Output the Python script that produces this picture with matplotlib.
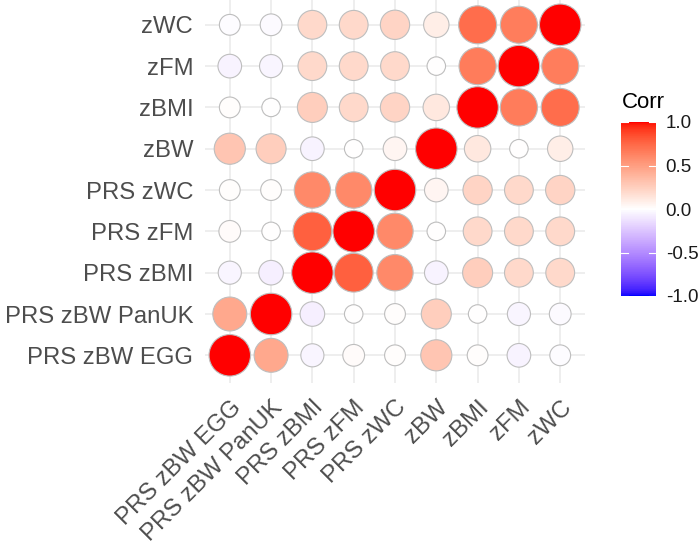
import numpy as np
import matplotlib
matplotlib.use("Agg")
import matplotlib.pyplot as plt
from matplotlib.colors import ListedColormap, Normalize
from matplotlib.cm import ScalarMappable

plt.rcParams["font.family"] = ["Liberation Sans", "DejaVu Sans"]

# ── Datos ─────────────────────────────────────────────────────────────────────
labels = ["PRS zBW EGG", "PRS zBW PanUK", "PRS zBMI", "PRS zFM", "PRS zWC",
          "zBW", "zBMI", "zFM", "zWC"]

# matriz de correlación (fila i, columna j), mismo orden que labels
corr = [
    [1.00,  0.45, -0.04,  0.02,  0.01,  0.30,  0.01, -0.05, -0.01],
    [0.45,  1.00, -0.07,  0.00,  0.01,  0.25,  0.00, -0.04, -0.02],
    [-0.04, -0.07, 1.00,  0.78,  0.60, -0.05,  0.25,  0.20,  0.20],
    [0.02,  0.00,  0.78,  1.00,  0.60,  0.00,  0.20,  0.20,  0.20],
    [0.01,  0.01,  0.60,  0.60,  1.00,  0.05,  0.22,  0.20,  0.22],
    [0.30,  0.25, -0.05,  0.00,  0.05,  1.00,  0.12,  0.00,  0.09],
    [0.01,  0.00,  0.25,  0.20,  0.22,  0.12,  1.00,  0.66,  0.72],
    [-0.05, -0.04, 0.20,  0.20,  0.20,  0.00,  0.66,  1.00,  0.65],
    [-0.01, -0.02, 0.20,  0.20,  0.22,  0.09,  0.72,  0.65,  1.00],
]

legend_ticks = [-1.0, -0.5, 0.0, 0.5, 1.0]

# ── Colores ───────────────────────────────────────────────────────────────────
GREY_TXT = "#4D4D4D"
GRID = "#EBEBEB"
OUTLINE = "#BEBEBE"
LOW, MID, HIGH = (0, 0, 1.0), (1.0, 1.0, 1.0), (1.0, 0, 0)

# interpolación en espacio Lab (como scale_fill_gradient2)
M = np.array([[0.4124, 0.3576, 0.1805],
              [0.2126, 0.7152, 0.0722],
              [0.0193, 0.1192, 0.9505]])
WN = np.array([0.95047, 1.0, 1.08883])
D = 6 / 29


def rgb2lab(rgb):
    c = np.asarray(rgb, float)
    c = np.where(c <= 0.04045, c / 12.92, ((c + 0.055) / 1.055) ** 2.4)
    t = (M @ c) / WN
    f = np.where(t > D ** 3, np.cbrt(t), t / (3 * D ** 2) + 4 / 29)
    return np.array([116 * f[1] - 16, 500 * (f[0] - f[1]), 200 * (f[1] - f[2])])


def lab2rgb(lab):
    L, a, b = lab
    fy = (L + 16) / 116
    f = np.array([fy + a / 500, fy, fy - b / 200])
    t = np.where(f > D, f ** 3, 3 * D ** 2 * (f - 4 / 29)) * WN
    c = np.linalg.solve(M, t)
    c = np.where(c <= 0.0031308, 12.92 * c,
                 1.055 * np.power(np.clip(c, 0, None), 1 / 2.4) - 0.055)
    return np.clip(c, 0, 1)


lab_low, lab_mid, lab_high = rgb2lab(LOW), rgb2lab(MID), rgb2lab(HIGH)
cols = []
for v in np.linspace(-1, 1, 256):
    if v < 0:
        lab = lab_mid + (lab_low - lab_mid) * (-v)
    else:
        lab = lab_mid + (lab_high - lab_mid) * v
    cols.append(lab2rgb(lab))
cmap = ListedColormap(cols)
norm = Normalize(-1, 1)

# ── Figura ────────────────────────────────────────────────────────────────────
fig = plt.figure(figsize=(6.99, 5.44), dpi=100)
ax = fig.add_axes([205 / 699, 1 - 383 / 544, 380 / 699, 383 / 544])

n = len(labels)
xs, ys, vals = [], [], []
for i in range(n):
    for j in range(n):
        xs.append(j)
        ys.append(i)
        vals.append(corr[i][j])
vals = np.array(vals)
a = np.abs(vals)

# tamaño ~ sqrt(|r|) reescalado (como scale_size)
d_min, d_max = 18.5, 41.5  # diámetro en px
diam = d_min + (d_max - d_min) * np.sqrt((a - a.min()) / (a.max() - a.min()))
sizes = (diam * 72 / fig.dpi) ** 2

ax.scatter(xs, ys, s=sizes, c=vals, cmap=cmap, norm=norm,
           edgecolors=OUTLINE, linewidths=0.8, zorder=3, clip_on=False)

ax.set_xlim(-0.6, n - 0.4)
ax.set_ylim(-0.67, n - 0.4)
ax.set_xticks(range(n))
ax.set_yticks(range(n))
ax.set_xticklabels(labels, rotation=45, ha="right", va="top",
                   rotation_mode="anchor")
ax.set_yticklabels(labels)
ax.tick_params(axis="both", length=0, labelsize=17.2, colors=GREY_TXT)
ax.tick_params(axis="x", pad=9.5)
ax.tick_params(axis="y", pad=8.5)
ax.grid(True, color=GRID, lw=1.2)
ax.set_axisbelow(True)
for s in ax.spines.values():
    s.set_visible(False)

# ── Leyenda de color ──────────────────────────────────────────────────────────
cax = fig.add_axes([621 / 699, 1 - 296 / 544, 35 / 699, 174 / 544])
cb = fig.colorbar(ScalarMappable(norm=norm, cmap=cmap), cax=cax)
cb.outline.set_visible(False)
cb.set_ticks(legend_ticks)
cb.set_ticklabels([f"{t:.1f}" for t in legend_ticks])
cax.tick_params(length=0, labelsize=13.5, pad=7, colors="#1A1A1A")
for t in legend_ticks:
    cax.plot([0, 0.2], [t, t], color="white", lw=0.8, transform=cax.get_yaxis_transform())
    cax.plot([0.8, 1], [t, t], color="white", lw=0.8, transform=cax.get_yaxis_transform())
fig.text(622 / 699, 1 - 108 / 544, "Corr", fontsize=16, color="black",
         ha="left", va="baseline")

fig.savefig("out.png", dpi=100)
